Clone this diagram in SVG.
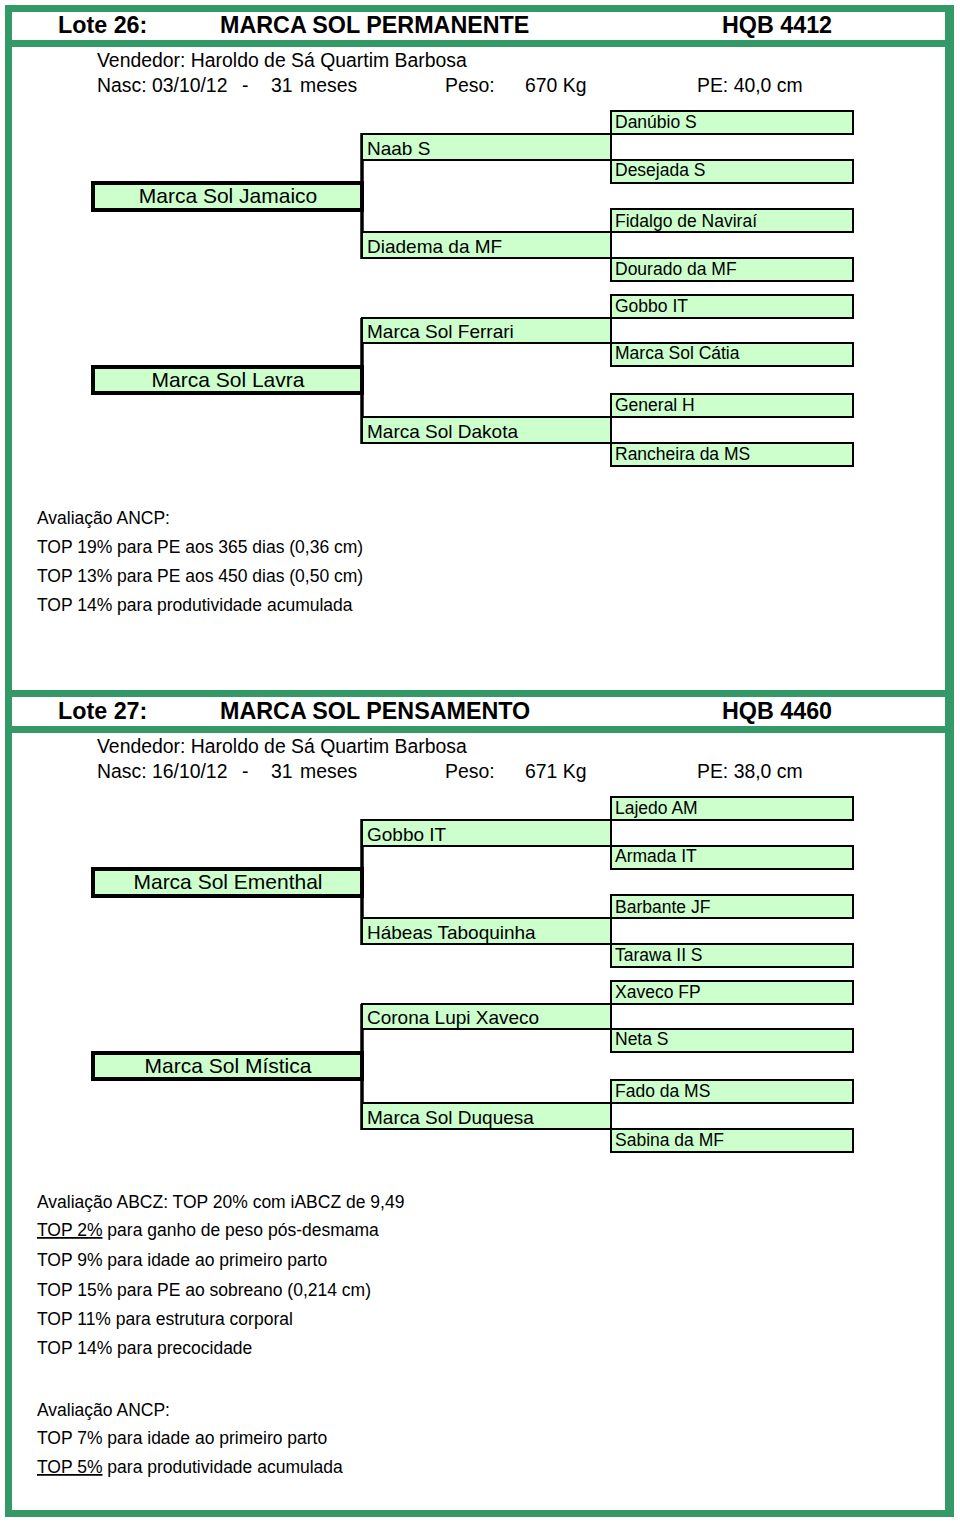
<svg xmlns="http://www.w3.org/2000/svg" width="960" height="1525" viewBox="0 0 960 1525">
<style>
text{font-family:"Liberation Sans",Arial,sans-serif;fill:#000}
.frame{fill:#339966}
.hd{font-size:23.3px;font-weight:bold}
.info{font-size:19.4px}
.g1{fill:#ccffcc;stroke:#000;stroke-width:4}
.g2{fill:#ccffcc;stroke:#000;stroke-width:2}
.g3{fill:#ccffcc;stroke:#000;stroke-width:2}
.t1{font-size:21px;text-anchor:middle}
.t2{font-size:19px}
.t3{font-size:17.5px}
.ev{font-size:17.5px}
.c1{stroke:#000;stroke-width:3.5;fill:none}
.c2{stroke:#000;stroke-width:2;fill:none}
</style>
<rect width="960" height="1525" fill="#fff"/>
<g id="frame">
<rect class="frame" x="5" y="5" width="7" height="1512"/>
<rect class="frame" x="945" y="5" width="9" height="1512"/>
<rect class="frame" x="5" y="5" width="949" height="7"/>
<rect class="frame" x="5" y="40" width="949" height="7"/>
<rect class="frame" x="5" y="690" width="949" height="7"/>
<rect class="frame" x="5" y="726" width="949" height="7"/>
<rect class="frame" x="5" y="1510" width="949" height="7"/>
</g>

<!-- LOTE 26 -->
<g id="lote26">
<g id="header26">
<text class="hd" x="58" y="33">Lote 26:</text>
<text class="hd" x="220" y="33">MARCA SOL PERMANENTE</text>
<text class="hd" x="722" y="33">HQB 4412</text>
<text class="info" x="97" y="67">Vendedor: Haroldo de Sá Quartim Barbosa</text>
<text class="info" x="97" y="92">Nasc: 03/10/12</text>
<text class="info" x="242" y="92">-</text>
<text class="info" x="271" y="92">31</text>
<text class="info" x="300" y="92">meses</text>
<text class="info" x="445" y="92">Peso:</text>
<text class="info" x="525" y="92">670 Kg</text>
<text class="info" x="697" y="92">PE: 40,0 cm</text>
</g>
<g id="connectors26">
<line class="c1" x1="362" y1="133" x2="362" y2="259"/>
<line class="c1" x1="362" y1="318" x2="362" y2="444"/>
<line class="c2" x1="611" y1="111" x2="611" y2="183"/>
<line class="c2" x1="611" y1="209" x2="611" y2="281"/>
<line class="c2" x1="611" y1="295" x2="611" y2="366"/>
<line class="c2" x1="611" y1="394" x2="611" y2="466"/>
</g>
<g id="n26_jamaico"><rect class="g1" x="93" y="183" width="269" height="27"/><text class="t1" x="228" y="203">Marca Sol Jamaico</text></g>
<g id="n26_lavra"><rect class="g1" x="93" y="367" width="269" height="26"/><text class="t1" x="228" y="387">Marca Sol Lavra</text></g>
<g id="n26_naab"><rect class="g2" x="362" y="134" width="249" height="26"/><text class="t2" x="367" y="155">Naab S</text></g>
<g id="n26_diadema"><rect class="g2" x="362" y="232" width="249" height="26"/><text class="t2" x="367" y="253">Diadema da MF</text></g>
<g id="n26_ferrari"><rect class="g2" x="362" y="318" width="249" height="25"/><text class="t2" x="367" y="338">Marca Sol Ferrari</text></g>
<g id="n26_dakota"><rect class="g2" x="362" y="417" width="249" height="26"/><text class="t2" x="367" y="438">Marca Sol Dakota</text></g>
<g id="n26_danubio"><rect class="g3" x="611" y="111" width="242" height="23"/><text class="t3" x="615" y="128">Danúbio S</text></g>
<g id="n26_desejada"><rect class="g3" x="611" y="160" width="242" height="23"/><text class="t3" x="615" y="176">Desejada S</text></g>
<g id="n26_fidalgo"><rect class="g3" x="611" y="209" width="242" height="23"/><text class="t3" x="615" y="227">Fidalgo de Naviraí</text></g>
<g id="n26_dourado"><rect class="g3" x="611" y="258" width="242" height="23"/><text class="t3" x="615" y="275">Dourado da MF</text></g>
<g id="n26_gobbo"><rect class="g3" x="611" y="295" width="242" height="23"/><text class="t3" x="615" y="312">Gobbo IT</text></g>
<g id="n26_catia"><rect class="g3" x="611" y="343" width="242" height="23"/><text class="t3" x="615" y="359">Marca Sol Cátia</text></g>
<g id="n26_general"><rect class="g3" x="611" y="394" width="242" height="23"/><text class="t3" x="615" y="411">General H</text></g>
<g id="n26_rancheira"><rect class="g3" x="611" y="443" width="242" height="23"/><text class="t3" x="615" y="460">Rancheira da MS</text></g>
<g id="eval26">
<text class="ev" x="37" y="524">Avaliação ANCP:</text>
<text class="ev" x="37" y="553">TOP 19% para PE aos 365 dias (0,36 cm)</text>
<text class="ev" x="37" y="582">TOP 13% para PE aos 450 dias (0,50 cm)</text>
<text class="ev" x="37" y="611">TOP 14% para produtividade acumulada</text>
</g>
</g>

<!-- LOTE 27 -->
<g id="lote27" transform="translate(0,686)">
<g id="header27">
<text class="hd" x="58" y="33">Lote 27:</text>
<text class="hd" x="220" y="33">MARCA SOL PENSAMENTO</text>
<text class="hd" x="722" y="33">HQB 4460</text>
<text class="info" x="97" y="67">Vendedor: Haroldo de Sá Quartim Barbosa</text>
<text class="info" x="97" y="92">Nasc: 16/10/12</text>
<text class="info" x="242" y="92">-</text>
<text class="info" x="271" y="92">31</text>
<text class="info" x="300" y="92">meses</text>
<text class="info" x="445" y="92">Peso:</text>
<text class="info" x="525" y="92">671 Kg</text>
<text class="info" x="697" y="92">PE: 38,0 cm</text>
</g>
<g id="connectors27">
<line class="c1" x1="362" y1="133" x2="362" y2="259"/>
<line class="c1" x1="362" y1="318" x2="362" y2="444"/>
<line class="c2" x1="611" y1="111" x2="611" y2="183"/>
<line class="c2" x1="611" y1="209" x2="611" y2="281"/>
<line class="c2" x1="611" y1="295" x2="611" y2="366"/>
<line class="c2" x1="611" y1="394" x2="611" y2="466"/>
</g>
<g id="n27_ementhal"><rect class="g1" x="93" y="183" width="269" height="27"/><text class="t1" x="228" y="203">Marca Sol Ementhal</text></g>
<g id="n27_mistica"><rect class="g1" x="93" y="367" width="269" height="26"/><text class="t1" x="228" y="387">Marca Sol Mística</text></g>
<g id="n27_gobbo"><rect class="g2" x="362" y="134" width="249" height="26"/><text class="t2" x="367" y="155">Gobbo IT</text></g>
<g id="n27_habeas"><rect class="g2" x="362" y="232" width="249" height="26"/><text class="t2" x="367" y="253">Hábeas Taboquinha</text></g>
<g id="n27_corona"><rect class="g2" x="362" y="318" width="249" height="25"/><text class="t2" x="367" y="338">Corona Lupi Xaveco</text></g>
<g id="n27_duquesa"><rect class="g2" x="362" y="417" width="249" height="26"/><text class="t2" x="367" y="438">Marca Sol Duquesa</text></g>
<g id="n27_lajedo"><rect class="g3" x="611" y="111" width="242" height="23"/><text class="t3" x="615" y="128">Lajedo AM</text></g>
<g id="n27_armada"><rect class="g3" x="611" y="160" width="242" height="23"/><text class="t3" x="615" y="176">Armada IT</text></g>
<g id="n27_barbante"><rect class="g3" x="611" y="209" width="242" height="23"/><text class="t3" x="615" y="227">Barbante JF</text></g>
<g id="n27_tarawa"><rect class="g3" x="611" y="258" width="242" height="23"/><text class="t3" x="615" y="275">Tarawa II S</text></g>
<g id="n27_xaveco"><rect class="g3" x="611" y="295" width="242" height="23"/><text class="t3" x="615" y="312">Xaveco FP</text></g>
<g id="n27_neta"><rect class="g3" x="611" y="343" width="242" height="23"/><text class="t3" x="615" y="359">Neta S</text></g>
<g id="n27_fado"><rect class="g3" x="611" y="394" width="242" height="23"/><text class="t3" x="615" y="411">Fado da MS</text></g>
<g id="n27_sabina"><rect class="g3" x="611" y="443" width="242" height="23"/><text class="t3" x="615" y="460">Sabina da MF</text></g>
</g>
<g id="eval27">
<text class="ev" x="37" y="1208">Avaliação ABCZ: TOP 20% com iABCZ de 9,49</text>
<text class="ev" x="37" y="1236"><tspan text-decoration="underline">TOP 2%</tspan> para ganho de peso pós-desmama</text>
<text class="ev" x="37" y="1266">TOP 9% para idade ao primeiro parto</text>
<text class="ev" x="37" y="1296">TOP 15% para PE ao sobreano (0,214 cm)</text>
<text class="ev" x="37" y="1325">TOP 11% para estrutura corporal</text>
<text class="ev" x="37" y="1354">TOP 14% para precocidade</text>
<text class="ev" x="37" y="1416">Avaliação ANCP:</text>
<text class="ev" x="37" y="1444">TOP 7% para idade ao primeiro parto</text>
<text class="ev" x="37" y="1473"><tspan text-decoration="underline">TOP 5%</tspan> para produtividade acumulada</text>
</g>
</svg>
